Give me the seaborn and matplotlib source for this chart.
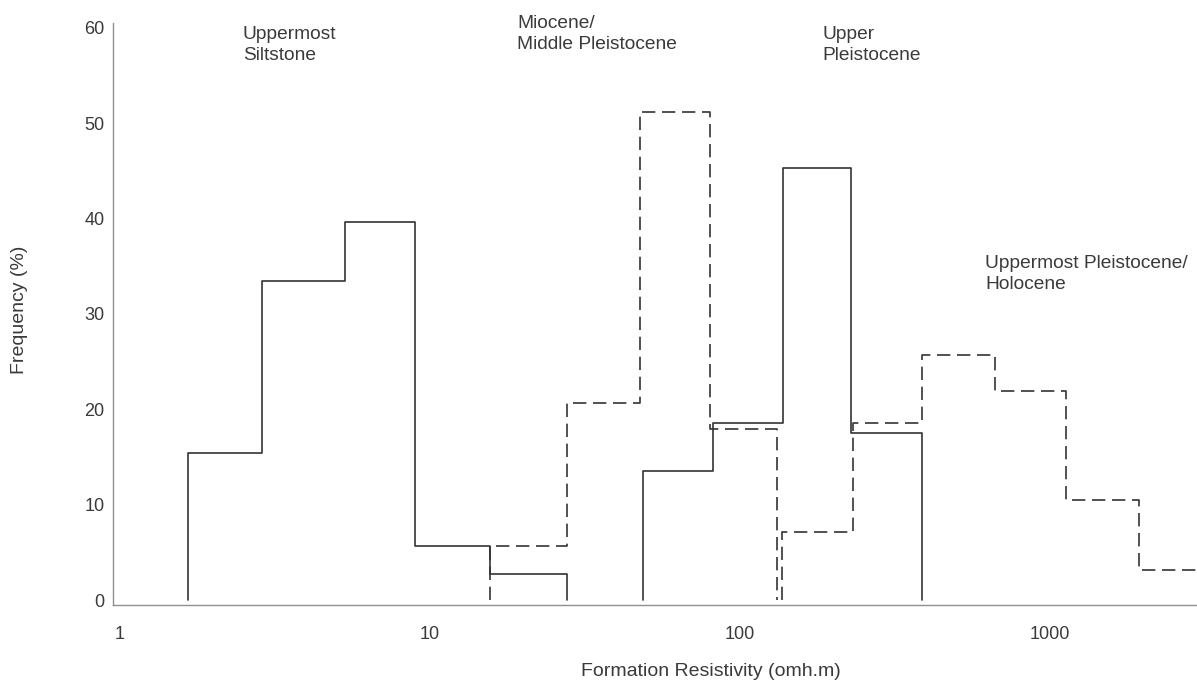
import numpy as np
import pandas as pd
import matplotlib
matplotlib.use("Agg")
import matplotlib.pyplot as plt
import seaborn as sns

# Resistivity class boundaries (ohm.m) and frequency (%) per class
siltstone_edges = [1.66, 2.87, 5.3, 8.95, 15.6, 27.7]
siltstone_freq = [15.4, 33.5, 39.7, 5.7, 2.7]

miocene_edges = [15.6, 27.7, 47.6, 80.0, 131.6]
miocene_freq = [5.7, 20.7, 51.2, 17.9]

upper_pleist_edges = [48.7, 81.8, 137.6, 228.0, 386.0]
upper_pleist_freq = [13.5, 18.6, 45.3, 17.5]

holocene_edges = [136.5, 231.5, 386.0, 665.0, 1127.0, 1937.0, 3300.0]
holocene_freq = [7.1, 18.6, 25.7, 21.9, 10.5, 3.1]

x_ticks = [1, 10, 100, 1000]
x_tick_labels = ["1", "10", "100", "1000"]
y_ticks = [0, 10, 20, 30, 40, 50, 60]

sns.set_theme(style="white")
plt.rcParams["font.family"] = ["Liberation Sans", "DejaVu Sans"]

TEXT = "#3a3a3a"
LINE = "#333333"
SPINE = "#8f8f8f"


def step_frame(edges, freq):
    """Outline of a histogram: rises from zero at the first edge, falls to zero at the last."""
    xs = [edges[0]] + list(edges)
    ys = [0.0] + list(freq) + [0.0]
    return pd.DataFrame({"resistivity": xs, "frequency": ys})


fig = plt.figure(figsize=(11.97, 6.82), dpi=100)
ax = fig.add_axes([113 / 1197, 1 - 604.8 / 682, 1084 / 1197, 581.6 / 682])

series = [
    (siltstone_edges, siltstone_freq, "-"),
    (miocene_edges, miocene_freq, (0, (8, 4))),
    (upper_pleist_edges, upper_pleist_freq, "-"),
    (holocene_edges, holocene_freq, (0, (8, 4))),
]
for edges, freq, ls in series:
    df = step_frame(edges, freq)
    sns.lineplot(data=df, x="resistivity", y="frequency", estimator=None, sort=False,
                 drawstyle="steps-post", color=LINE, linewidth=1.2, linestyle=ls, ax=ax)

ax.set_xscale("log")
ax.set_xlim(0.949, 2980)
ax.set_ylim(-0.5, 60.5)

ax.xaxis.set_major_locator(matplotlib.ticker.FixedLocator(x_ticks))
ax.xaxis.set_minor_locator(matplotlib.ticker.NullLocator())
ax.set_xticklabels(x_tick_labels)
ax.set_yticks(y_ticks)
ax.tick_params(axis="both", length=0, labelsize=13, labelcolor=TEXT)
ax.tick_params(axis="x", pad=15)
ax.tick_params(axis="y", pad=6)

for side in ("top", "right"):
    ax.spines[side].set_visible(False)
for side in ("left", "bottom"):
    ax.spines[side].set_color(SPINE)
    ax.spines[side].set_linewidth(1.0)

ax.set_xlabel("Formation Resistivity (omh.m)", fontsize=14, color=TEXT)
ax.set_ylabel("Frequency (%)", fontsize=14, color=TEXT)
ax.xaxis.set_label_coords(0.552, -0.100)
ax.yaxis.set_label_coords(-0.078, 0.507)

annotations = [
    (2.49, 60.2, "Uppermost\nSiltstone"),
    (19.1, 61.4, "Miocene/\nMiddle Pleistocene"),
    (184.0, 60.2, "Upper\nPleistocene"),
    (617.0, 36.2, "Uppermost Pleistocene/\nHolocene"),
]
for x, y, label in annotations:
    ax.text(x, y, label, ha="left", va="top", fontsize=13.8, color=TEXT,
            linespacing=1.32, clip_on=False)

fig.savefig("out.png", dpi=100)
